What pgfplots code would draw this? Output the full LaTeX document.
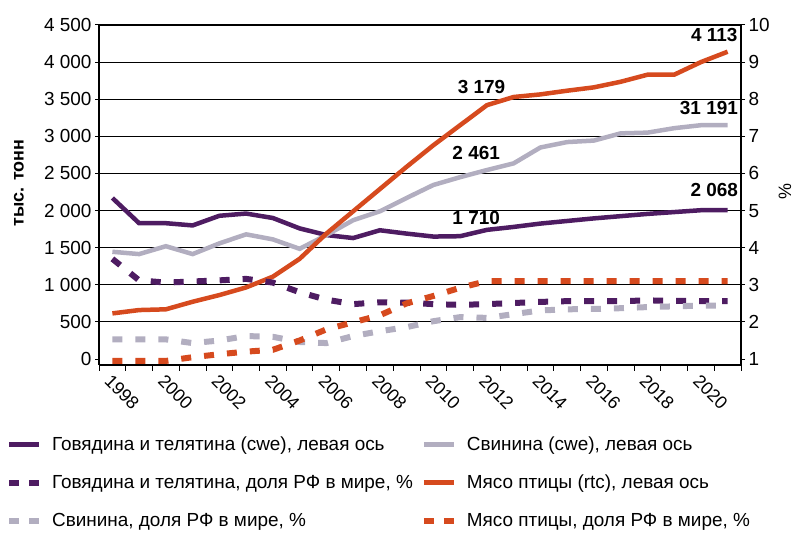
\documentclass[border=0pt]{standalone}
\usepackage{pgfplots}
\usepackage{pgfplotstable}
\pgfplotsset{compat=1.18}
\usepackage{fontspec}
\setmainfont{Liberation Sans}
\definecolor{beef}{RGB}{78,28,98}
\definecolor{pork}{RGB}{178,174,192}
\definecolor{chick}{RGB}{214,74,30}

\pgfplotstableread{
year beef pork chick beefs porks chicks
1998 2170 1445 615  3.70 1.53 0.95
1999 1830 1414 660  3.12 1.53 0.95
2000 1830 1520 670  3.06 1.53 0.95
2001 1800 1414 772  3.09 1.43 1.05
2002 1930 1558 862  3.12 1.50 1.13
2003 1960 1680 965  3.16 1.62 1.20
2004 1900 1612 1110 3.06 1.60 1.25
2005 1760 1485 1350 2.80 1.46 1.50
2006 1670 1670 1690 2.60 1.43 1.80
2007 1630 1870 1990 2.48 1.62 1.99
2008 1735 1990 2290 2.53 1.75 2.18
2009 1690 2170 2590 2.52 1.86 2.50
2010 1650 2345 2880 2.48 2.02 2.70
2011 1655 2450 3150 2.46 2.13 2.92
2012 1740 2546 3420 2.48 2.11 3.10
2013 1780 2636 3530 2.51 2.21 3.10
2014 1825 2850 3565 2.54 2.31 3.10
2015 1860 2923 3615 2.56 2.34 3.10
2016 1895 2943 3660 2.56 2.35 3.10
2017 1925 3040 3735 2.56 2.37 3.10
2018 1955 3050 3830 2.58 2.40 3.10
2019 1980 3110 3830 2.57 2.42 3.10
2020 2005 3150 4000 2.56 2.44 3.10
2021 2005 3150 4140 2.56 2.44 3.10
}\data

\begin{document}
\begin{tikzpicture}
\useasboundingbox (0,0) rectangle (795bp,534bp);
\pgfplotsset{
  base/.style={
    at={(99bp,169bp)}, anchor=south west, scale only axis,
    width=642bp, height=340bp,
    xmin=1997.5, xmax=2021.5,
    tick align=outside, major tick length=4bp, minor tick length=6bp,
    every tick/.style={black, line width=1bp},
    axis line style={black, line width=1.2bp},
    /pgf/number format/assume math mode=true,
    ticklabel style={font=\fontsize{19}{22}\selectfont},
    clip=false,
  }
}
\begin{axis}[base,
  axis x line*=bottom, axis y line*=left,
  ymin=-80, ymax=4500,
  ytick={500,1000,...,4500},
  yticklabels={500,1\ 000,1\ 500,2\ 000,2\ 500,3\ 000,3\ 500,4\ 000,4\ 500},
  extra y ticks={0}, extra y tick labels={0}, extra y tick style={grid=none},
  ymajorgrids, grid style={black, line width=1.1bp},
  xtick={1998,2000,...,2020},
  xticklabels={1998,2000,2002,2004,2006,2008,2010,2012,2014,2016,2018,2020},
  every major x tick/.style={draw=none},
  minor xtick={1997.5,1998.5,...,2021.5},
  xticklabel style={rotate=-45, anchor=north west, font=\fontsize{18}{20}\selectfont},
]
\addplot[beef, line width=4.5bp] table[x=year, y=beef] {\data};
\addplot[pork, line width=4.5bp] table[x=year, y=pork] {\data};
\addplot[chick, line width=4.5bp] table[x=year, y=chick] {\data};
\node[font=\fontsize{19}{22}\selectfont\bfseries] at (axis cs:2020.5,4365) {4 113};
\node[font=\fontsize{19}{22}\selectfont\bfseries] at (axis cs:2011.8,3665) {3 179};
\node[font=\fontsize{19}{22}\selectfont\bfseries] at (axis cs:2020.3,3380) {31 191};
\node[font=\fontsize{19}{22}\selectfont\bfseries] at (axis cs:2011.6,2775) {2 461};
\node[font=\fontsize{19}{22}\selectfont\bfseries] at (axis cs:2020.5,2277) {2 068};
\node[font=\fontsize{19}{22}\selectfont\bfseries] at (axis cs:2011.6,1900) {1 710};
\end{axis}
\begin{axis}[base,
  axis y line*=right, axis x line=none,
  ymin=0.84, ymax=10, ytick={1,2,...,10},
  legend columns=2,
  legend cell align=left,
  legend image code/.code={\draw[#1] (0bp,0bp) -- (30bp,0bp);},
  legend style={at={(-0.145,-0.205)}, anchor=north west, draw=none, fill=none,
    font=\fontsize{19}{22}\selectfont, inner sep=0pt, row sep=19bp,
    nodes={inner sep=2bp},
    /tikz/every odd column/.append style={column sep=8bp},
    /tikz/every even column/.append style={column sep=6bp}},
]
\addplot[forget plot, beef, line width=6bp, dash pattern=on 10bp off 13bp] table[x=year, y=beefs] {\data};
\addplot[forget plot, pork, line width=6bp, dash pattern=on 10bp off 13bp] table[x=year, y=porks] {\data};
\addplot[forget plot, chick, line width=6bp, dash pattern=on 10bp off 13bp] table[x=year, y=chicks] {\data};
\addlegendimage{beef, line width=5bp}
\addlegendentry{Говядина и телятина (cwe), левая ось}
\addlegendimage{pork, line width=5bp}
\addlegendentry{Свинина (cwe), левая ось}
\addlegendimage{beef, line width=6bp, dash pattern=on 10bp off 10bp}
\addlegendentry{Говядина и телятина, доля РФ в мире, \%}
\addlegendimage{chick, line width=5bp}
\addlegendentry{Мясо птицы (rtc), левая ось}
\addlegendimage{pork, line width=6bp, dash pattern=on 10bp off 10bp}
\addlegendentry{Свинина, доля РФ в мире, \%}
\addlegendimage{chick, line width=6bp, dash pattern=on 10bp off 10bp}
\addlegendentry{Мясо птицы, доля РФ в мире, \%}
\end{axis}
\node[rotate=90, font=\fontsize{18}{20}\selectfont\bfseries] at (19bp,351bp) {тыс. тонн};
\node[rotate=90, font=\fontsize{18}{20}\selectfont] at (785bp,342bp) {\%};
\end{tikzpicture}
\end{document}
